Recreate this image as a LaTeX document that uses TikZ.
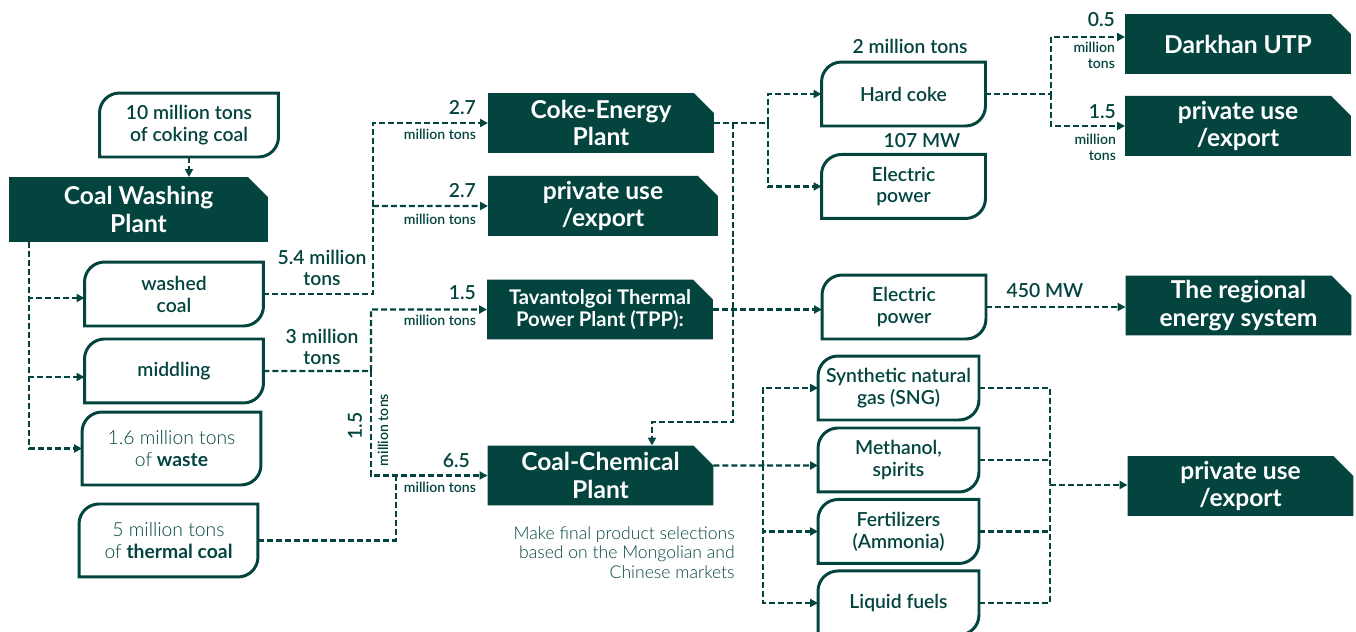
\documentclass[tikz,border=0pt]{standalone}
\usepackage{fontspec}
\setmainfont{Lato}
\IfFontExistsTF{Lato Semibold}{\newfontfamily\medfont{Lato Semibold}}{%
  \IfFontExistsTF{Lato Medium}{\newfontfamily\medfont{Lato Medium}}{\newfontfamily\medfont{Lato}}}
\IfFontExistsTF{Lato Light}{\newfontfamily\lightfont{Lato Light}}{\newfontfamily\lightfont{Lato}}
\usetikzlibrary{arrows.meta}
\definecolor{pine}{HTML}{03443E}
\tikzstyle{plant} = [rectangle, fill=white, outer sep=0pt, inner sep=2pt,
    minimum width=4.52cm, minimum height=1.2cm, text=white, align=center,
    font=\bfseries\fontsize{14}{15.5}\selectfont,
    path picture={\fill[pine] (path picture bounding box.south west)
      -- (path picture bounding box.south east)
      -- ([yshift=-0.4cm]path picture bounding box.north east)
      -- ([xshift=-0.4cm]path picture bounding box.north east)
      -- (path picture bounding box.north west) -- cycle;}]
\tikzstyle{product} = [rectangle, outer sep=0pt, inner sep=2pt,
    minimum width=3.58cm, minimum height=1.28cm, text=pine, align=center,
    font=\medfont\fontsize{11}{12.5}\selectfont,
    append after command={\pgfextra{\let\bx\tikzlastnode
      \draw[pine, line width=1.7pt] (\bx.south west)
        -- ([yshift=-0.4cm]\bx.north west) arc[start angle=180, end angle=90, radius=0.4cm]
        -- (\bx.north east)
        -- ([yshift=0.4cm]\bx.south east) arc[start angle=0, end angle=-90, radius=0.4cm]
        -- cycle;}}]
\tikzstyle{link} = [draw, pine, line width=1.2pt, dash pattern=on 3.4pt off 1.7pt]
\tikzstyle{flow} = [link, -{Triangle[length=4.5pt, width=4.5pt]}]
\tikzstyle{qty} = [text=pine, inner sep=1pt, font=\medfont\fontsize{11}{12}\selectfont]
\tikzstyle{unit} = [text=pine, inner sep=1pt, align=right, font=\medfont\fontsize{8}{9}\selectfont]

\begin{document}
\begin{tikzpicture}[x=0.02cm, y=-0.02cm]
  \useasboundingbox (0,0) rectangle (1356,632);
   % Place nodes
    \node [product] (coking) at (189,125) {10 million tons\\of coking coal};
    \node [plant, minimum width=5.18cm, minimum height=1.3cm] (wash) at (138.5,209.5) {Coal Washing\\Plant};
    \node [product] (washed) at (174,294) {washed\\coal};
    \node [product, below of=washed, node distance=1.54cm] (middling) {middling};
    \node [product, minimum height=1.46cm] (waste) at (171.5,448.5) {{\lightfont 1.6 million tons}\\{\lightfont of} {\normalfont\bfseries waste}};
    \node [product, minimum height=1.46cm, below of=waste, node distance=1.84cm, xshift=-0.06cm] (thermal) {{\lightfont 5 million tons}\\{\lightfont of} {\normalfont\bfseries thermal coal}};

    \node [plant] (coke) at (601,123) {Coke-Energy\\Plant};
    \node [plant, below of=coke, node distance=1.66cm, minimum width=4.6cm, xshift=0.04cm] (expA) {private use\\/export};
    \node [plant, font=\bfseries\fontsize{11.5}{12.5}\selectfont] (tpp) at (600,309.5) {Tavantolgoi Thermal\\Power Plant (TPP):};
    \node [plant] (chem) at (600.5,475.5) {Coal-Chemical\\Plant};
    \node [text=pine, align=right, anchor=north east, inner sep=0pt, font=\lightfont\fontsize{10}{11.3}\selectfont] (note) at (735,526) {Make final product selections\\based on the Mongolian and\\Chinese markets};

    \node [product, minimum width=3.28cm] (hardcoke) at (903.5,94) {Hard coke};
    \node [product, minimum width=3.28cm, below of=hardcoke, node distance=1.85cm] (elecA) {Electric\\power};
    \node [product, minimum width=3.28cm] (elecB) at (904,307) {Electric\\power};
    \node [product, minimum width=3.22cm] (sng) at (898.5,388) {Synthetic natural\\gas (SNG)};
    \node [product, minimum width=3.22cm, below of=sng, node distance=1.44cm] (meth) {Methanol,\\spirits};
    \node [product, minimum width=3.22cm, below of=meth, node distance=1.43cm] (fert) {Fertilizers\\(Ammonia)};
    \node [product, minimum width=3.22cm, below of=fert, node distance=1.43cm] (liquid) {Liquid fuels};

    \node [plant] (darkhan) at (1238,44) {Darkhan UTP};
    \node [plant, below of=darkhan, node distance=1.64cm] (expB) {private use\\/export};
    \node [plant] (regional) at (1238.5,305.5) {The regional\\energy system};
    \node [plant] (expC) at (1240.5,486) {private use\\/export};

   % Quantities
    \node [qty] (q2mt) at (910,46) {2 million tons};
    \node [qty] (q107) at (922,141) {107 MW};
    \node [qty] (q450) at (1045,291) {450 MW};
    \node [qty, align=center] (q54) at (322,268) {5.4 million\\tons};
    \node [qty, align=center] (q3) at (322,347) {3 million\\tons};
    \node [qty, anchor=south east] (qcoke) at (478,117) {2.7};
    \node [unit, anchor=north east] (ucoke) at (478,127) {million tons};
    \node [qty, anchor=south east] (qexpA) at (478,200) {2.7};
    \node [unit, anchor=north east] (uexpA) at (478,212) {million tons};
    \node [qty, anchor=south east] (qtpp) at (478,302) {1.5};
    \node [unit, anchor=north east] (utpp) at (478,313) {million tons};
    \node [qty, anchor=south east] (qchem) at (472,470) {6.5};
    \node [unit, anchor=north east] (uchem) at (478,480) {million tons};
    \node [qty, rotate=90] (qdown) at (355,426) {1.5};
    \node [unit, rotate=90] (udown) at (383,430) {million tons};
    \node [qty, anchor=south east] (qdark) at (1117,29) {0.5};
    \node [unit, anchor=north east] (udark) at (1117,40) {million\\tons};
    \node [qty, anchor=south east] (qexpB) at (1118,121) {1.5};
    \node [unit, anchor=north east] (uexpB) at (1118,132) {million\\tons};

   % Draw edges
    \coordinate (trunk) at ([xshift=0.4cm]wash.south west);
    \coordinate (split1) at (373,206);
    \coordinate (split2) at (371,371);
    \coordinate (merge1) at (396,475.5);
    \coordinate (split3) at (768,123);
    \coordinate (split4) at (733,123);
    \coordinate (bend1) at (733,422);
    \coordinate (split5) at (1051,94);
    \coordinate (split6) at (763,465.5);
    \coordinate (merge2) at (1050,485);

    \draw [flow] (coking.south) -- (coking.south |- wash.north);
    \draw [flow] (trunk) |- ([yshift=-0.08cm]washed.west);
    \draw [flow] (trunk) |- ([yshift=-0.12cm]middling.west);
    \draw [flow] (trunk) |- (waste.west);
    \draw [flow] (washed.east) -| (split1) |- (coke.west);
    \draw [flow] (split1) -- (expA.west);
    \draw [flow] (middling.east) -- (split2) |- (tpp.west);
    \draw [flow] (split2) |- (chem.west);
    \draw [link] (thermal.east) -| (merge1);

    \draw [flow] (coke.east) -- (split3) |- (hardcoke.west);
    \draw [flow] (split3) |- (elecA.west);
    \draw [flow] (split4) -- (bend1) -| ([xshift=1.03cm]chem.north);
    \draw [flow] (tpp.east) -- (tpp.east -| elecB.west);
    \draw [flow] (elecB.east) -- (elecB.east -| regional.west);
    \draw [flow] (hardcoke.east) -- (split5) |- ([yshift=0.14cm]darkhan.west);
    \draw [flow] (split5) |- (expB.west);

    \draw [flow] ([yshift=0.2cm]chem.east) -- (split6) -- (split6 -| meth.west);
    \draw [flow] (split6) |- (sng.west);
    \draw [flow] (split6) |- (fert.west);
    \draw [flow] (split6) |- (liquid.west);
    \draw [link] (sng.east) -| (merge2);
    \draw [link] (liquid.east) -| (merge2);
    \draw [link] (meth.east) -- (meth.east -| merge2);
    \draw [link] (fert.east) -- (fert.east -| merge2);
    \draw [flow] (merge2) -- (merge2 -| expC.west);
  \end{tikzpicture}
\end{document}
